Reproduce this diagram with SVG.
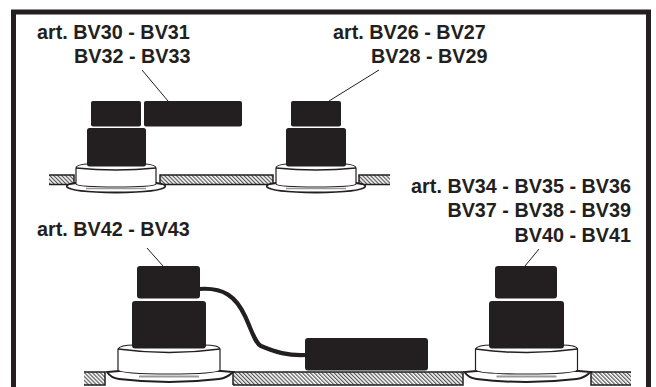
<svg xmlns="http://www.w3.org/2000/svg" width="656" height="387" viewBox="0 0 656 387">
<defs>
<pattern id="hatch" width="2.8" height="2.8" patternUnits="userSpaceOnUse" patternTransform="rotate(-45)"><rect width="2.8" height="2.8" fill="#fff"/><rect width="1.2" height="2.800" fill="#555"/></pattern>
<g id="small">
<path d="M-40 103 L-46 104 Q-50 105 -49 107 Q-45 112 0 112.500 Q45 112 49 107 Q50 105 46 104 L40 103Z" fill="#fff" stroke="#231f20" stroke-width="1.800"/>
<path d="M-40 88 Q-40 85 -30 84 L30 84 Q40 85 40 88 L40 104 Q38 107 0 107 Q-38 107 -40 104Z" fill="#fff" stroke="#231f20" stroke-width="1.200"/>
<path d="M-40 88 Q0 92 40 88" fill="none" stroke="#231f20" stroke-width="1.500"/>
<path d="M-30 108.500 H30" stroke="#999" stroke-width="1.500"/>
</g>
<g id="large">
<path d="M-62 122 Q-58 128 -50 129 Q0 135 50 129 Q58 128 64 122 L52 121 L-50 121Z" fill="#fff" stroke="#231f20" stroke-width="2"/>
<path d="M-51 99 Q-49 95 -35 95 L35 95 Q50 95 51 99 L51 120 Q48 124 0 124 Q-48 124 -51 120Z" fill="#fff" stroke="#231f20" stroke-width="1.200"/>
<path d="M-51 99 Q0 106 51 99" fill="none" stroke="#231f20" stroke-width="1.500"/>
<path d="M-30 126.500 H30" stroke="#999" stroke-width="2"/>
</g>
</defs>
<style>
.b{fill:#231f20}
.l{fill:none;stroke:#231f20;stroke-width:1}
.t{font:bold 19.800px "Liberation Sans",Arial,sans-serif;fill:#231f20}
.h{fill:url(#hatch)}
.e{fill:none;stroke:#231f20;stroke-width:1.500}
</style>
<rect width="656" height="387" fill="#fff"/>
<path id="frame" d="M13.500 387V12H648.500V387" fill="none" stroke="#231f20" stroke-width="5"/>
<g id="panels">
<rect class="h" x="49" y="175" width="25" height="9"/><path class="e" d="M49 175H74V184.500H49"/>
<rect class="h" x="160" y="175" width="113" height="9"/><path class="e" d="M160 175H273V184.500H160Z"/>
<rect class="h" x="359" y="175" width="31" height="9"/><path class="e" d="M390 175H359V184.500H390"/>
<rect class="h" x="84" y="372" width="21" height="13"/><path class="e" d="M84 372H105V385H84"/>
<rect class="h" x="233" y="372" width="230" height="13"/><path class="e" d="M233 385V372H463V385H233"/>
<rect class="h" x="591" y="372" width="40" height="13"/><path class="e" d="M631 372H591V385H631"/>
</g>
<g id="connectors">
<path class="l" d="M142 70L168 101"/><path class="l" d="M379 70L329 101"/>
<path class="l" d="M147 248L163 266"/><path class="l" d="M539 249L525 266"/>
<path d="M199 289C224 287 236 297 245 316C252 331 255 343 261 346C275 352 288 356 306 355" fill="none" stroke="#231f20" stroke-width="4.200"/>
</g>
<g id="button-a">
<use href="#small" x="116" y="80"/>
<rect class="b" x="87" y="128" width="59" height="38.500" rx="2.500"/>
<rect class="b" x="91" y="101" width="50" height="25.500" rx="2"/>
</g>
<g id="button-a2"><rect class="b" x="144" y="101" width="98" height="25.500" rx="2"/></g>
<g id="button-b">
<use href="#small" x="316" y="80"/>
<rect class="b" x="286" y="128" width="60" height="38.500" rx="2.500"/>
<rect class="b" x="291" y="101" width="50" height="25.500" rx="2"/>
</g>
<g id="button-c">
<use href="#large" x="169" y="250"/>
<rect class="b" x="132" y="301" width="74" height="47.500" rx="3"/>
<rect class="b" x="137" y="266" width="63" height="32.500" rx="3"/>
<rect class="b" x="305" y="338" width="123" height="32.500" rx="3"/>
</g>
<g id="button-d">
<use href="#large" x="526.500" y="250"/>
<rect class="b" x="489" y="301" width="75" height="47.500" rx="3"/>
<rect class="b" x="495" y="266" width="62" height="32.500" rx="3"/>
</g>
<g id="labels">
<text class="t" x="37" y="39">art. BV30 - BV31</text>
<text class="t" x="74" y="63">BV32 - BV33</text>
<text class="t" x="333" y="39">art. BV26 - BV27</text>
<text class="t" x="371" y="63">BV28 - BV29</text>
<text class="t" x="631" y="193" text-anchor="end">art. BV34 - BV35 - BV36</text>
<text class="t" x="631" y="217" text-anchor="end">BV37 - BV38 - BV39</text>
<text class="t" x="631" y="242" text-anchor="end">BV40 - BV41</text>
<text class="t" x="37" y="236">art. BV42 - BV43</text>
</g>
</svg>
